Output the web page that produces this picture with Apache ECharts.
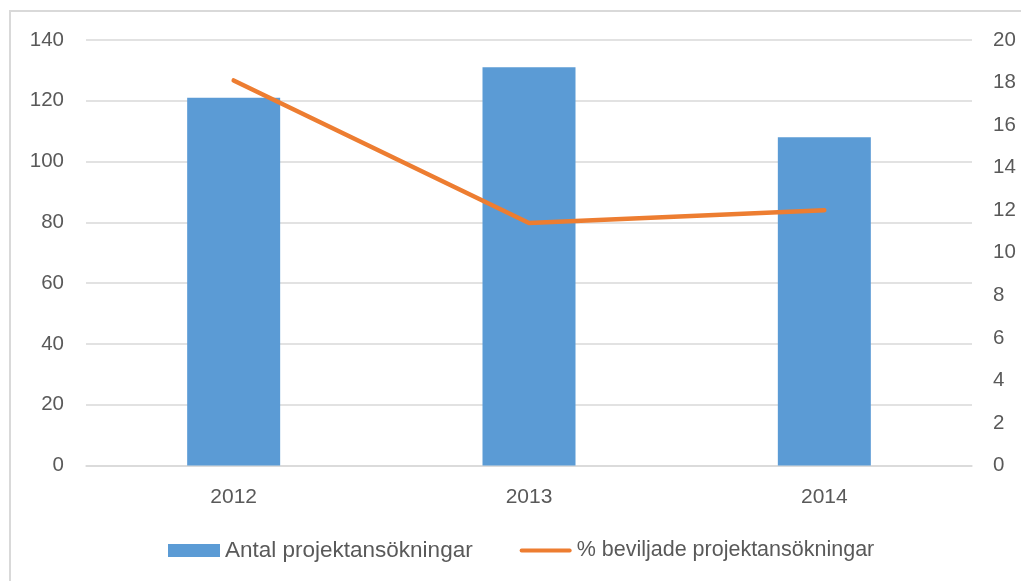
<!DOCTYPE html>
<html>
<head>
<meta charset="utf-8">
<script src="https://cdn.jsdelivr.net/npm/echarts@6/dist/echarts.min.js"></script>
<style>html,body{margin:0;padding:0;background:#fff}#c{width:1021px;height:581px}</style>
</head>
<body>
<div id="c"></div>
<script>
var categories = ['2012', '2013', '2014'];
var antalValues = [121, 131, 108];
var procentValues = [18.1, 11.4, 12.0];
var seriesNames = ['Antal projektansökningar', '% beviljade projektansökningar'];

var chart = echarts.init(document.getElementById('c'), null, {renderer: 'canvas'});
var font = 'Liberation Sans, Arial, sans-serif';
var labelColor = '#595959';
chart.setOption({
  animation: false,
  backgroundColor: '#fff',
  graphic: [{
    type: 'rect', silent: true, z: -1,
    shape: {x: 10, y: 11, width: 1030, height: 600},
    style: {fill: '#fff', stroke: '#d9d9d9', lineWidth: 2}
  }],
  grid: {left: 86, right: 49, top: 40, bottom: 115.5, containLabel: false},
  legend: {
    top: 534, left: 163,
    itemWidth: 52, itemHeight: 13, itemGap: 47,
    textStyle: {fontFamily: font, fontSize: 22.5, color: labelColor, padding: [0, 0, 0, 0]},
    data: [
      {name: seriesNames[0], icon: 'rect'},
      {name: seriesNames[1], icon: 'path://M2,0 H53 A2,2 0 0 1 53,4 H2 A2,2 0 0 1 2,0 Z',
       textStyle: {fontSize: 21.5}}
    ]
  },
  xAxis: {
    type: 'category', data: categories,
    axisLine: {lineStyle: {color: '#d9d9d9', width: 1.5}},
    axisTick: {show: false},
    axisLabel: {fontFamily: font, fontSize: 21, color: labelColor, margin: 21}
  },
  yAxis: [{
    type: 'value', min: 0, max: 140, interval: 20,
    axisLine: {show: false}, axisTick: {show: false},
    splitLine: {lineStyle: {color: '#d9d9d9', width: 1.5}},
    axisLabel: {fontFamily: font, fontSize: 20.5, color: labelColor, margin: 22}
  }, {
    type: 'value', min: 0, max: 20, interval: 2,
    axisLine: {show: false}, axisTick: {show: false},
    splitLine: {show: false},
    axisLabel: {fontFamily: font, fontSize: 20.5, color: labelColor, margin: 21}
  }],
  series: [{
    name: seriesNames[0], type: 'bar', data: antalValues,
    barWidth: 93,
    itemStyle: {color: '#5b9bd5'}
  }, {
    name: seriesNames[1], type: 'line', yAxisIndex: 1, data: procentValues,
    symbol: 'none',
    itemStyle: {color: '#ed7d31'},
    lineStyle: {color: '#ed7d31', width: 4.5, cap: 'round', join: 'round'}
  }]
});
</script>
</body>
</html>
